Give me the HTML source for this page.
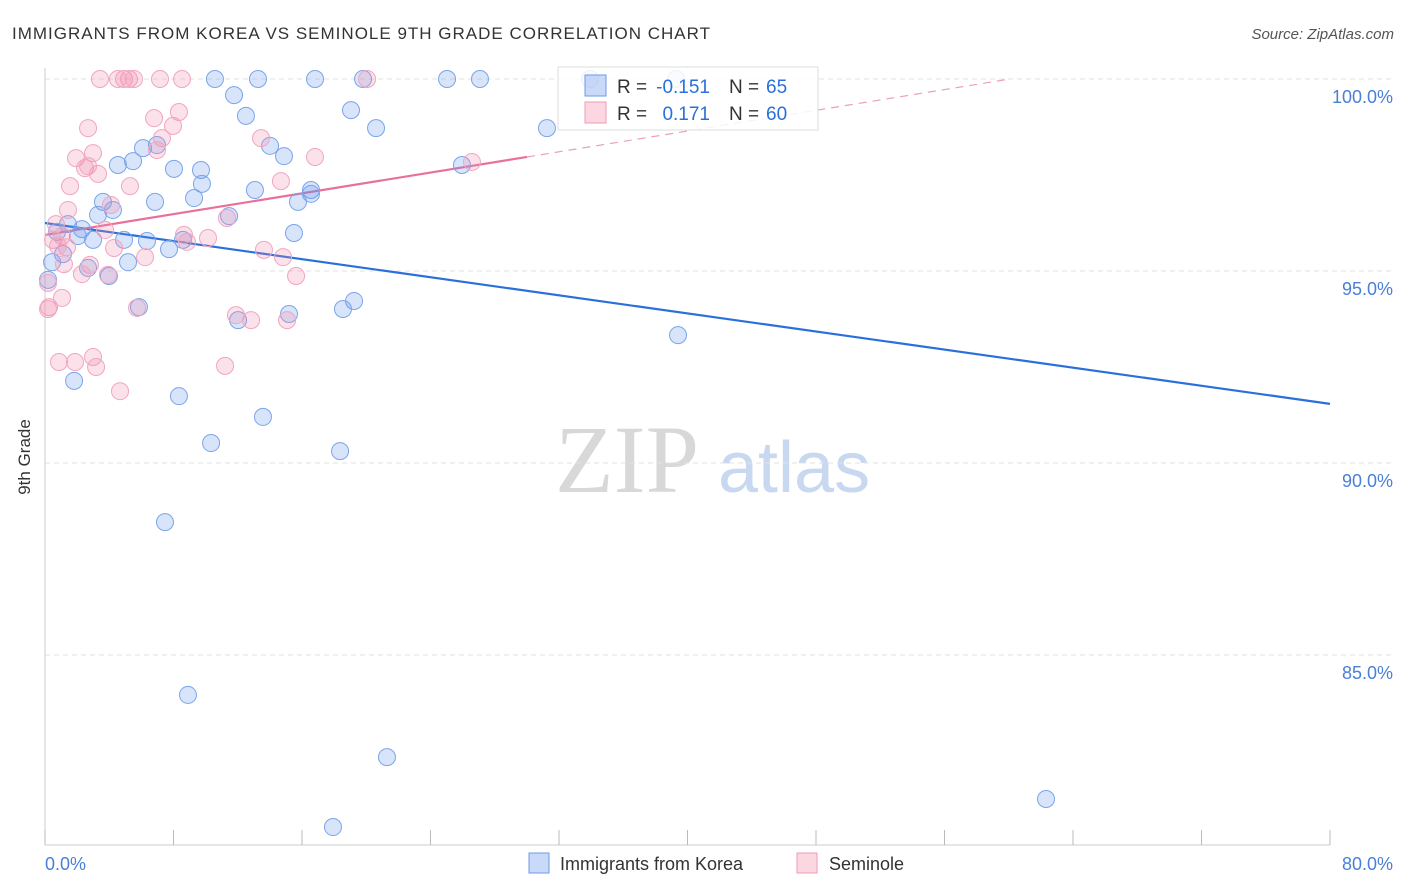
<!DOCTYPE html>
<html><head><meta charset="utf-8"><style>
body{margin:0;background:#fff;font-family:"Liberation Sans",sans-serif;}
svg{display:block}
</style></head><body>
<svg id="chart" width="1406" height="892">
<text x="12" y="39" font-size="17" fill="#333" textLength="698" lengthAdjust="spacing">IMMIGRANTS FROM KOREA VS SEMINOLE 9TH GRADE CORRELATION CHART</text>
<text x="1394" y="39" font-size="15" fill="#555" font-style="italic" text-anchor="end">Source: ZipAtlas.com</text>
<g>
<text x="555" y="492" font-family="Liberation Serif,serif" font-size="96" fill="#d8d8d8">ZIP</text>
<text x="718" y="492" font-size="72" fill="#c8d8f0">atlas</text>
</g>
<g id="grid"></g>
<g id="axes"></g>
<g id="lines"></g>
<g id="pts"></g>
<text x="30" y="457" font-size="17" fill="#333" text-anchor="middle" transform="rotate(-90 30 457)">9th Grade</text>
<g>
<rect x="558" y="67" width="260" height="63" fill="#fff" fill-opacity="0.85" stroke="#ddd"/>
<rect x="585" y="75" width="21" height="21" fill="rgba(100,149,237,0.35)" stroke="#6b9be8"/>
<rect x="585" y="102" width="21" height="21" fill="rgba(240,140,170,0.35)" stroke="#f09ab8"/>
<text x="617" y="93" font-size="19" fill="#333">R =</text>
<text x="710" y="93" font-size="19" fill="#2a6fdb" text-anchor="end">-0.151</text>
<text x="729" y="93" font-size="19" fill="#333">N =</text>
<text x="766" y="93" font-size="19" fill="#2a6fdb">65</text>
<text x="617" y="120" font-size="19" fill="#333">R =</text>
<text x="710" y="120" font-size="19" fill="#2a6fdb" text-anchor="end">0.171</text>
<text x="729" y="120" font-size="19" fill="#333">N =</text>
<text x="766" y="120" font-size="19" fill="#2a6fdb">60</text>
</g>
<g>
<rect x="529" y="853" width="20" height="20" fill="rgba(100,149,237,0.35)" stroke="#6b9be8"/>
<text x="560" y="870" font-size="18" fill="#333">Immigrants from Korea</text>
<rect x="797" y="853" width="20" height="20" fill="rgba(240,140,170,0.35)" stroke="#f09ab8"/>
<text x="829" y="870" font-size="18" fill="#333">Seminole</text>
</g>
</svg>
<script>
const blueX=[10.58,13.26,16.81,19.80,25.03,27.08,33.93,39.29,11.77,19.05,12.51,20.61,31.25,14.01,6.10,6.97,14.88,5.48,4.54,8.03,9.71,9.77,25.96,13.07,16.56,16.56,6.85,9.28,15.75,3.61,4.23,3.30,11.46,1.43,2.30,0.75,2.05,15.50,4.92,2.99,6.35,8.59,7.72,1.12,0.44,5.17,2.68,3.98,0.19,5.85,19.24,18.55,15.19,12.02,39.41,1.81,8.34,13.57,10.34,18.37,7.47,8.90,21.29,62.32,17.93];
const blueY=[100,100,100,100,100,100,100,100,99.58,99.19,99.04,98.72,98.72,98.26,98.20,98.28,97.99,97.86,97.76,97.66,97.63,97.27,97.76,97.11,97.11,97.01,96.80,96.90,96.80,96.80,96.59,96.46,96.43,96.22,96.09,96.02,95.91,95.99,95.81,95.81,95.78,95.81,95.57,95.44,95.23,95.23,95.08,94.87,94.77,94.06,94.22,94.01,93.88,93.72,93.33,92.14,91.74,91.20,90.52,90.31,88.46,83.96,82.34,81.25,80.52];
const pinkX=[3.42,4.92,5.23,5.54,7.16,8.53,20.05,4.54,8.34,6.79,2.68,7.97,7.28,13.45,2.99,6.97,1.93,16.81,2.49,3.30,2.68,26.58,1.56,5.29,14.69,4.11,1.43,11.33,0.68,3.74,1.06,8.65,10.15,0.50,8.84,1.37,4.30,13.63,6.23,14.82,1.18,2.80,2.30,15.63,3.92,1.06,0.25,5.73,11.89,12.83,15.07,0.87,1.87,2.99,3.18,11.21,4.67,0.19,0.81,0.19];
const pinkY=[100,100,100,100,100,100,100,100,99.14,98.98,98.72,98.78,98.46,98.46,98.07,98.15,97.94,97.97,97.68,97.53,97.73,97.84,97.21,97.21,97.34,96.72,96.59,96.38,96.22,96.07,95.91,95.94,95.86,95.81,95.76,95.62,95.60,95.55,95.36,95.36,95.18,95.16,94.92,94.87,94.90,94.30,94.06,94.04,93.85,93.72,93.72,92.63,92.63,92.76,92.50,92.53,91.87,94.01,95.65,94.69];
const blueTrendX=[0,80];
const blueTrendY=[96.25,91.54];
const pinkTrendX=[0,30.01];
const pinkTrendY=[95.94,97.97];
const pinkDashX=[30.01,60.08];
const pinkDashY=[97.97,100];
const yTicks=[100,95,90,85];
const yTickLabels=["100.0%","95.0%","90.0%","85.0%"];
const xTicks=[0,8,16,24,32,40,48,56,64,72,80];

const NS="http://www.w3.org/2000/svg";
const sx=v=>45+v*1285/80;
const sy=v=>79+(100-v)*38.4;
function mk(tag,attrs,parent){const e=document.createElementNS(NS,tag);for(const k in attrs)e.setAttribute(k,attrs[k]);document.getElementById(parent).appendChild(e);return e;}

yTicks.forEach((t,i)=>{
  const g=mk('line',{x1:45,x2:1395,y1:sy(t),y2:sy(t),stroke:'#e2e2e2','stroke-dasharray':'5,4'},'grid');
  
  
  const l=mk('text',{x:1393,y:sy(t)+24,'font-size':18,fill:'#4a7fd8','text-anchor':'end'},'grid');
  l.textContent=yTickLabels[i];
  
  
});
const ya=mk('line',{x1:45,x2:45,y1:68,y2:845,stroke:'#ccc'},'axes');


const xa=mk('line',{x1:45,x2:1330,y1:845,y2:845,stroke:'#ccc'},'axes');


xTicks.forEach(t=>{
  const tk=mk('line',{x1:sx(t),x2:sx(t),y1:830,y2:845,stroke:'#bbb'},'axes');
  
  
});
const xl0=mk('text',{x:45,y:870,'font-size':18,fill:'#4a7fd8'},'axes');xl0.textContent='0.0%';


const xl1=mk('text',{x:1393,y:870,'font-size':18,fill:'#4a7fd8','text-anchor':'end'},'axes');xl1.textContent='80.0%';



blueX.forEach((x,i)=>{
  const c=mk('circle',{cx:sx(x),cy:sy(blueY[i]),r:8.5,fill:'rgba(100,149,237,0.25)',stroke:'#7aa5ea','stroke-width':1},'pts');
  
  
});
pinkX.forEach((x,i)=>{
  const c=mk('circle',{cx:sx(x),cy:sy(pinkY[i]),r:8.5,fill:'rgba(240,140,170,0.25)',stroke:'#f2a5c0','stroke-width':1},'pts');
  
  
});
const bl=mk('line',{x1:sx(blueTrendX[0]),y1:sy(blueTrendY[0]),x2:sx(blueTrendX[1]),y2:sy(blueTrendY[1]),stroke:'#2a6fdb','stroke-width':2.2},'lines');


const pl=mk('line',{x1:sx(pinkTrendX[0]),y1:sy(pinkTrendY[0]),x2:sx(pinkTrendX[1]),y2:sy(pinkTrendY[1]),stroke:'#e8709a','stroke-width':2.2},'lines');


const pd=mk('line',{x1:sx(pinkDashX[0]),y1:sy(pinkDashY[0]),x2:sx(pinkDashX[1]),y2:sy(pinkDashY[1]),stroke:'#eaa0b8','stroke-width':1.2,'stroke-dasharray':'8,6'},'lines');


</script>
</body></html>
